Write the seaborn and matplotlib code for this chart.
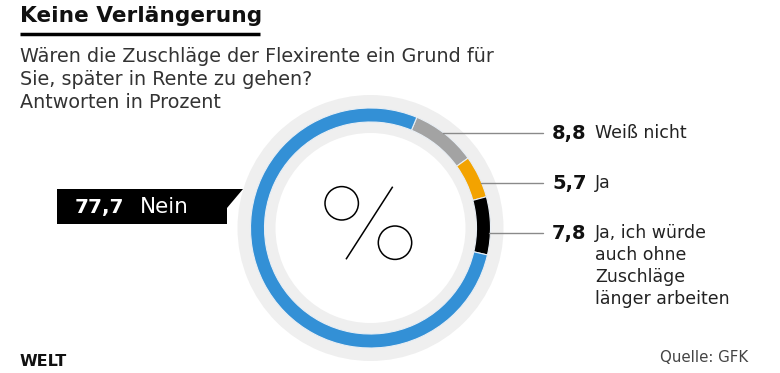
import matplotlib
matplotlib.use("Agg")
import matplotlib.pyplot as plt
import numpy as np
import seaborn as sns
from matplotlib.patches import Polygon, Circle, Wedge

# data
labels = ["Weiß nicht", "Ja", "Ja, ich würde\nauch ohne\nZuschläge\nlänger arbeiten", "Nein"]
values = [8.8, 5.7, 7.8, 77.7]
value_text = ["8,8", "5,7", "7,8", "77,7"]
colors = ["#a3a3a3", "#f3a300", "#000000", "#3390d6"]

title = "Keine Verlängerung"
subtitle = "Wären die Zuschläge der Flexirente ein Grund für\nSie, später in Rente zu gehen?\nAntworten in Prozent"
source = "Quelle: GFK"

sns.set_theme(style="white")
plt.rcParams["font.family"] = ["DejaVu Sans"]

W, H = 780, 373
fig = plt.figure(figsize=(7.8, 3.73), dpi=100)
ax = fig.add_axes([0, 0, 1, 1])

def Y(y):
    return H - y

cx, cy = 370.5, Y(228)
r_out = 120
ring_w = 14

# light gray background ring
ax.add_patch(Wedge((cx, cy), 133, 0, 360, width=38, facecolor="#efefef", edgecolor="none"))

ax.pie(values, colors=colors, startangle=67.3, counterclock=False,
       center=(cx, cy), radius=r_out,
       wedgeprops=dict(width=ring_w, edgecolor="#e8eef4", linewidth=0.8))

ax.set_xlim(0, W)
ax.set_ylim(0, H)
ax.set_aspect("auto")
ax.axis("off")

# percent symbol
ax.add_patch(Circle((341.7, Y(203.3)), 16.7, fill=False, edgecolor="black", linewidth=1.1))
ax.add_patch(Circle((395.0, Y(242.7)), 16.7, fill=False, edgecolor="black", linewidth=1.1))
ax.plot([392.7, 346.0], [Y(186.7), Y(259.3)], color="black", linewidth=1.1, solid_capstyle="butt")

# right side annotations
label_y = [133, 183, 233]
for i, ly in enumerate(label_y):
    dy = cy - Y(ly)
    x0 = cx + np.sqrt(r_out ** 2 - dy ** 2) - 1
    ax.plot([x0, 543], [Y(ly), Y(ly)], color="#8a8a8a", linewidth=1)
    ax.text(552, Y(ly), value_text[i], fontsize=14, fontweight="bold",
            color="#111111", va="center", ha="left")
    ax.text(595, Y(ly) + 9, labels[i], fontsize=12.5, color="#222222",
            va="top", ha="left", linespacing=1.28)

# Nein label box with pointer
box = Polygon([(57, Y(189)), (243, Y(189)), (227, Y(208)), (227, Y(224)), (57, Y(224))],
              closed=True, facecolor="black", edgecolor="none")
ax.add_patch(box)
ax.text(75, Y(207), value_text[3], fontsize=14.5, fontweight="bold", color="white",
        va="center", ha="left")
ax.text(140, Y(207), labels[3], fontsize=15.5, color="white", va="center", ha="left")

# title block
ax.text(20, Y(16), title, fontsize=15.6, fontweight="bold", color="#111111",
        va="center", ha="left")
ax.plot([20, 260], [Y(34), Y(34)], color="black", linewidth=2.5, solid_capstyle="butt")
ax.text(20, Y(47), subtitle, fontsize=13.8, color="#333333", va="top", ha="left",
        linespacing=1.27)

# footer
ax.text(20, Y(361), "WELT", fontsize=11.5, fontweight="heavy", color="#111111",
        va="center", ha="left")
ax.text(748, Y(358), source, fontsize=10.8, color="#444444", va="center", ha="right")

fig.savefig("out.png", dpi=100, facecolor="white")
